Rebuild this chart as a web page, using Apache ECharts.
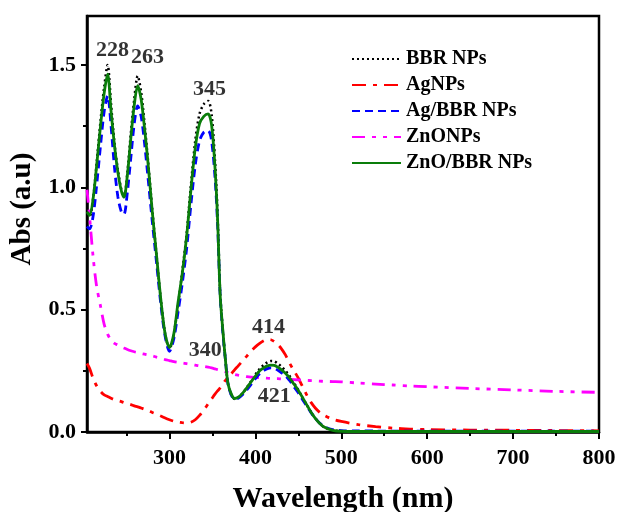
<!DOCTYPE html>
<html>
<head>
<meta charset="utf-8">
<script src="https://cdn.jsdelivr.net/npm/echarts@6/dist/echarts.min.js"></script>
<style>
html,body{margin:0;padding:0;background:#fff;}
#chart{width:618px;height:512px;}
</style>
</head>
<body>
<div id="chart"></div>
<script>
// Shared wavelength grid (nm)
const wavelength = [204,207,211,215,220,224,228,232,236,240,244,247,251,255,259,263,267,271,275,280,285,290,295,300,305,310,315,320,325,330,335,340,345,349,353,356,359,362,365,368,372,376,380,385,390,395,400,405,410,414,418,422,426,430,435,440,445,450,455,460,465,470,475,480,490,500,520,540,560,580,600,650,700,750,800];

const bbrNPs = [0.89,0.88,0.95,1.09,1.28,1.41,1.50,1.34,1.18,1.07,0.99,0.96,1.06,1.22,1.36,1.455,1.39,1.26,1.11,0.91,0.72,0.54,0.40,0.34,0.40,0.52,0.66,0.81,1.01,1.19,1.30,1.34,1.353,1.30,1.11,0.89,0.57,0.42,0.30,0.20,0.152,0.135,0.14,0.158,0.182,0.208,0.235,0.258,0.275,0.285,0.29,0.289,0.28,0.268,0.25,0.228,0.20,0.172,0.14,0.11,0.08,0.055,0.035,0.02,0.007,0.003,0.002,0.002,0.002,0.002,0.002,0.002,0.002,0.002,0.002];

const agNPs = [0.28,0.26,0.22,0.19,0.165,0.152,0.145,0.138,0.132,0.128,0.124,0.12,0.116,0.112,0.107,0.103,0.098,0.093,0.088,0.08,0.073,0.065,0.057,0.05,0.044,0.04,0.038,0.037,0.04,0.05,0.068,0.09,0.115,0.135,0.155,0.168,0.18,0.195,0.21,0.222,0.238,0.255,0.27,0.29,0.31,0.33,0.348,0.362,0.373,0.378,0.377,0.37,0.358,0.342,0.315,0.28,0.25,0.22,0.185,0.15,0.12,0.097,0.08,0.068,0.052,0.043,0.03,0.022,0.016,0.012,0.01,0.008,0.007,0.006,0.005];

const agBbrNPs = [0.84,0.83,0.88,1.0,1.18,1.31,1.374,1.25,1.08,0.96,0.90,0.89,0.98,1.12,1.26,1.333,1.29,1.18,1.04,0.86,0.69,0.52,0.39,0.33,0.38,0.49,0.61,0.75,0.93,1.09,1.19,1.225,1.231,1.19,1.04,0.85,0.56,0.41,0.30,0.20,0.15,0.135,0.138,0.152,0.172,0.195,0.218,0.238,0.252,0.259,0.262,0.26,0.253,0.243,0.23,0.21,0.185,0.16,0.132,0.105,0.078,0.055,0.036,0.022,0.01,0.006,0.004,0.004,0.003,0.003,0.003,0.003,0.003,0.003,0.003];

const znoNPs = [0.99,0.88,0.72,0.60,0.51,0.44,0.40,0.375,0.362,0.355,0.348,0.343,0.337,0.332,0.328,0.325,0.321,0.318,0.315,0.311,0.306,0.301,0.296,0.292,0.288,0.285,0.282,0.279,0.276,0.273,0.27,0.268,0.265,0.262,0.258,0.255,0.252,0.249,0.246,0.243,0.239,0.235,0.232,0.229,0.226,0.224,0.223,0.222,0.221,0.22,0.219,0.218,0.218,0.217,0.216,0.215,0.214,0.213,0.212,0.211,0.21,0.209,0.208,0.207,0.206,0.205,0.2,0.196,0.192,0.188,0.185,0.178,0.172,0.166,0.162];

const znoBbrNPs = [0.90,0.885,0.95,1.08,1.26,1.385,1.462,1.31,1.17,1.06,0.985,0.96,1.05,1.20,1.335,1.415,1.36,1.24,1.10,0.90,0.72,0.54,0.40,0.345,0.40,0.53,0.65,0.80,0.99,1.16,1.26,1.29,1.30,1.255,1.08,0.87,0.56,0.42,0.30,0.20,0.155,0.137,0.142,0.158,0.18,0.205,0.228,0.25,0.263,0.27,0.273,0.272,0.265,0.255,0.24,0.22,0.195,0.17,0.14,0.11,0.08,0.055,0.035,0.02,0.007,0.003,0.002,0.002,0.002,0.002,0.002,0.002,0.002,0.002,0.002];

const seriesNames = ['BBR NPs','AgNPs','Ag/BBR NPs','ZnONPs','ZnO/BBR NPs'];

const xMajorTicks = [300,400,500,600,700,800];
const xMinorTicks = [250,350,450,550,650,750];
const yMajorTicks = [0,0.5,1.0,1.5];
const yMinorTicks = [0.25,0.75,1.25];

// Peak annotations: text, wavelength, absorbance
const annText = ['228','263','345','340','414','421'];
const annX = [233.6,274.3,346.6,341.6,415.2,422];
const annY = [1.561,1.533,1.401,0.334,0.427,0.144];

const pair = (ys) => wavelength.map((w,i)=>[w, ys[i]]);
const FONT = '"Liberation Serif", "Times New Roman", serif';

const chart = echarts.init(document.getElementById('chart'), null, {renderer:'canvas'});

const xBase = {
  type:'value', min:204, max:800, gridIndex:0, position:'bottom',
  splitLine:{show:false}
};
const yBase = {
  type:'value', min:0, max:1.7, gridIndex:0, position:'left',
  splitLine:{show:false}
};

const option = {
  backgroundColor:'#fff',
  animation:false,
  grid:{left:87, right:19, top:16, bottom:80, outerBoundsMode:'none', containLabel:false,
    show:true, borderColor:'#000', borderWidth:2.5, backgroundColor:'transparent'},
  legend:{
    orient:'vertical', left:346, top:44, itemWidth:49, itemHeight:14, itemGap:6,
    itemStyle:{opacity:0},
    textStyle:{fontFamily:FONT, fontWeight:'bold', fontSize:20, color:'#000'},
    data:seriesNames
  },
  xAxis:[
    Object.assign({}, xBase, {
      name:'Wavelength (nm)', nameLocation:'middle', nameGap:52,
      nameTextStyle:{fontFamily:FONT, fontWeight:'bold', fontSize:30, color:'#000'},
      axisLine:{show:true, lineStyle:{color:'#000', width:2.5}},
      axisTick:{show:true, inside:false, length:7, lineStyle:{color:'#000', width:2}, customValues:xMajorTicks},
      axisLabel:{show:true, margin:15, fontFamily:FONT, fontWeight:'bold', fontSize:22, color:'#000', customValues:xMajorTicks}
    }),
    Object.assign({}, xBase, {
      axisLine:{show:false},
      axisTick:{show:true, inside:false, length:4, lineStyle:{color:'#000', width:2}, customValues:xMinorTicks},
      axisLabel:{show:false}
    })
  ],
  yAxis:[
    Object.assign({}, yBase, {
      name:'Abs (a.u)', nameLocation:'middle', nameGap:50,
      nameTextStyle:{fontFamily:FONT, fontWeight:'bold', fontSize:29, color:'#000', padding:[0,0,0,30]},
      axisLine:{show:true, lineStyle:{color:'#000', width:2.5}},
      axisTick:{show:true, inside:false, length:6, lineStyle:{color:'#000', width:2}, customValues:yMajorTicks},
      axisLabel:{show:true, margin:11, fontFamily:FONT, fontWeight:'bold', fontSize:22, color:'#000', customValues:yMajorTicks,
        formatter:(v)=>Number(v).toFixed(1)}
    }),
    Object.assign({}, yBase, {
      axisLine:{show:false},
      axisTick:{show:true, inside:false, length:4, lineStyle:{color:'#000', width:2}, customValues:yMinorTicks},
      axisLabel:{show:false}
    })
  ],
  series:[
    {name:seriesNames[0], type:'line', data:pair(bbrNPs), symbol:'none', smooth:0.3, z:2,
      color:'#000', lineStyle:{color:'#000', width:2.5, type:[2,3]}},
    {name:seriesNames[1], type:'line', data:pair(agNPs), symbol:'none', smooth:0.3, z:2,
      color:'#ff0000', lineStyle:{color:'#ff0000', width:2.8, type:[14,7,4,7]}},
    {name:seriesNames[2], type:'line', data:pair(agBbrNPs), symbol:'none', smooth:0.3, z:3,
      color:'#0000ff', lineStyle:{color:'#0000ff', width:2.8, type:[8,5]}},
    {name:seriesNames[3], type:'line', data:pair(znoNPs), symbol:'none', smooth:0.3, z:2,
      color:'#ff00ff', lineStyle:{color:'#ff00ff', width:2.8, type:[13,7,4,7,4,7]}},
    {name:seriesNames[4], type:'line', data:pair(znoBbrNPs), symbol:'none', smooth:0.3, z:4,
      color:'#0a7d0a', lineStyle:{color:'#0a7d0a', width:2.8, type:'solid'}},
    {name:'annotations', type:'scatter', symbolSize:0, z:5, silent:true,
      data:annText.map((t,i)=>({value:[annX[i], annY[i]], name:t})),
      label:{show:true, position:'inside', formatter:(p)=>p.name, fontFamily:FONT, fontWeight:'bold', fontSize:22, color:'#000'}}
  ]
};
chart.setOption(option);
</script>
</body>
</html>
